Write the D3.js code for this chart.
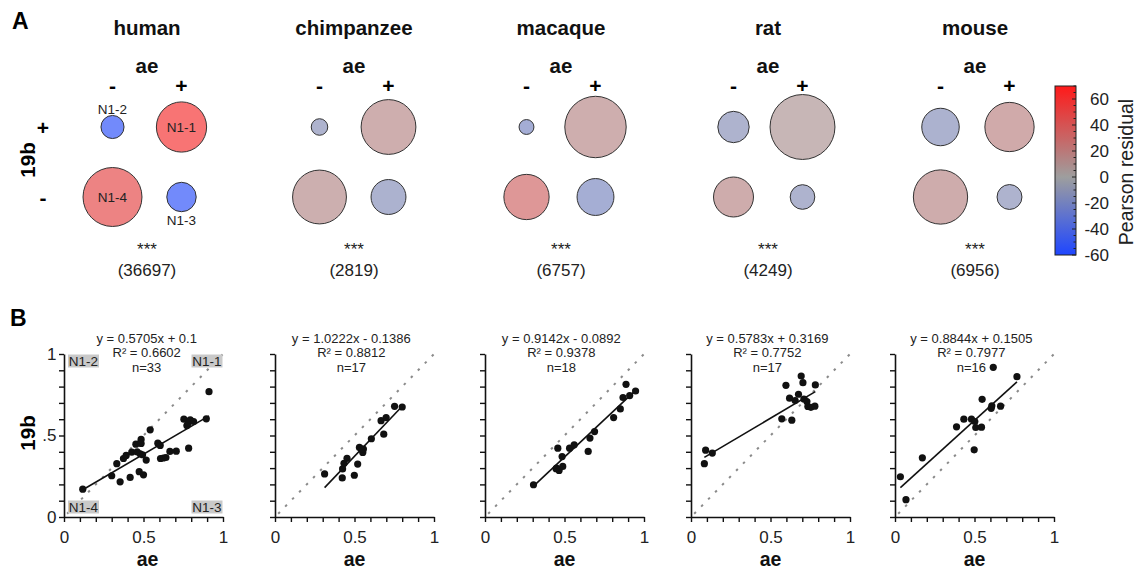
<!DOCTYPE html>
<html><head><meta charset="utf-8">
<script src="https://cdn.jsdelivr.net/npm/d3@7"></script>
<style>body{margin:0;background:#fff} svg{display:block;font-family:"Liberation Sans",Arial,Helvetica,sans-serif}</style>
</head><body><svg id="c" width="1138" height="570"></svg>
<script>
// ---------- DATA ----------
const species = ["human", "chimpanzee", "macaque", "rat", "mouse"];
const totals = [36697, 2819, 6757, 4249, 6956];
const signif = ["***", "***", "***", "***", "***"];

// quadrant order: N1-2 (ae-,19b+), N1-1 (ae+,19b+), N1-4 (ae-,19b-), N1-3 (ae+,19b-)
const quadNames = ["N1-2", "N1-1", "N1-4", "N1-3"];
const quadAe = ["-", "+", "-", "+"];
const quad19b = ["+", "+", "-", "-"];
const cellShare = [
  [0.072, 0.341, 0.470, 0.117],
  [0.037, 0.406, 0.392, 0.165],
  [0.030, 0.510, 0.277, 0.184],
  [0.133, 0.570, 0.216, 0.082],
  [0.190, 0.328, 0.398, 0.084]
];
const cellResidual = [
  [-56, 62, 50, -56],
  [-13, 15, 14, -14],
  [-20, 15, 33, -19],
  [-13, 8, 16, -13],
  [-14, 18, 16, -13]
];
const colorbarTicks = [-60, -40, -20, 0, 20, 40, 60];

const ptsHuman = [[0.118,0.171],[0.300,0.253],[0.332,0.327],[0.353,0.216],[0.374,0.359],[0.391,0.378],[0.416,0.243],[0.426,0.398],[0.452,0.447],[0.485,0.476],[0.485,0.451],[0.473,0.278],[0.479,0.388],[0.494,0.382],[0.500,0.259],[0.517,0.349],[0.542,0.535],[0.590,0.453],[0.605,0.439],[0.607,0.359],[0.625,0.362],[0.641,0.365],[0.666,0.402],[0.706,0.404],[0.754,0.600],[0.773,0.561],[0.780,0.575],[0.784,0.422],[0.794,0.596],[0.815,0.586],[0.895,0.602],[0.912,0.769],[0.460,0.400]];
const ptsChimp = [[0.312,0.264],[0.423,0.240],[0.425,0.295],[0.434,0.329],[0.453,0.360],[0.499,0.256],[0.520,0.325],[0.531,0.427],[0.552,0.396],[0.556,0.417],[0.543,0.417],[0.606,0.480],[0.667,0.591],[0.684,0.508],[0.699,0.610],[0.752,0.679],[0.800,0.675]];
const ptsMacaque = [[0.305,0.198],[0.447,0.296],[0.466,0.286],[0.489,0.310],[0.450,0.300],[0.458,0.422],[0.485,0.371],[0.532,0.422],[0.561,0.443],[0.649,0.402],[0.660,0.484],[0.689,0.524],[0.809,0.610],[0.851,0.663],[0.868,0.733],[0.887,0.814],[0.910,0.745],[0.947,0.773]];
const ptsRat = [[0.084,0.327],[0.092,0.410],[0.134,0.392],[0.571,0.602],[0.597,0.808],[0.620,0.729],[0.634,0.594],[0.655,0.714],[0.676,0.753],[0.693,0.865],[0.704,0.824],[0.710,0.724],[0.729,0.708],[0.735,0.678],[0.754,0.673],[0.779,0.680],[0.782,0.810]];
const ptsMouse = [[0.034,0.247],[0.069,0.106],[0.172,0.363],[0.387,0.553],[0.433,0.600],[0.481,0.600],[0.502,0.586],[0.508,0.549],[0.498,0.412],[0.544,0.551],[0.548,0.722],[0.605,0.667],[0.609,0.682],[0.664,0.680],[0.618,0.918],[0.767,0.861]];
const scatterPoints = [ptsHuman, ptsChimp, ptsMacaque, ptsRat, ptsMouse];

const fitSlope = [0.5705, 1.0222, 0.9142, 0.5783, 0.8844];
const fitIntercept = [0.1, -0.1386, -0.0892, 0.3169, 0.1505];
const fitR2 = ["0.6602", "0.8812", "0.9378", "0.7752", "0.7977"];
const fitN = [33, 17, 18, 17, 16];

const axisTicks = [0,0.1,0.2,0.3,0.4,0.5,0.6,0.7,0.8,0.9,1];
const xTickVals = [0, 0.5, 1], xTickLabels = ["0", "0.5", "1"];
const yTickVals = [0, 0.5, 1], yTickLabels = ["0", ".5", "1"];
const cornerNames = ["N1-2", "N1-1", "N1-4", "N1-3"];
const cornerX = [0, 1, 0, 1], cornerY = [1, 1, 0, 0];

// ---------- DRAW ----------
const svg = d3.select("#c");
const txt = "#111";

svg.append("text").attr("x", 12).attr("y", 29).attr("font-size", 23).attr("font-weight", "bold").text("A");
svg.append("text").attr("x", 10).attr("y", 326).attr("font-size", 23).attr("font-weight", "bold").text("B");

// ---- Panel A ----
const cx = d3.scalePoint().domain(species).range([147, 975]);
const colOff = d3.scalePoint().domain(["-", "+"]).range([-34.5, 34.5]);
const rowY = d3.scalePoint().domain(["+", "-"]).range([127, 197]);
const rScale = d3.scaleSqrt().domain([0, 1]).range([0, 43]);
const color = d3.scaleLinear().domain([-60, 0, 70]).range(["#1e46ff", "#9e9e9e", "#ff1a1a"]);

svg.append("text").attr("transform", "translate(27,160) rotate(-90)").attr("text-anchor", "middle")
  .attr("dominant-baseline", "central").attr("font-size", 20.5).attr("font-weight", "bold").text("19b");
["+", "-"].forEach(s => {
  svg.append("text").attr("x", 43).attr("y", rowY(s)).attr("text-anchor", "middle").attr("dominant-baseline", "central")
    .attr("font-size", 21).attr("font-weight", "bold").text(s);
});

species.forEach((sp, i) => {
  const c = cx(sp);
  const g = svg.append("g");
  g.append("text").attr("x", c).attr("y", 35).attr("text-anchor", "middle").attr("font-size", 20.5).attr("font-weight", "bold").attr("fill", txt).text(sp);
  g.append("text").attr("x", c).attr("y", 73).attr("text-anchor", "middle").attr("font-size", 20.5).attr("font-weight", "bold").attr("fill", txt).text("ae");
  ["-", "+"].forEach(s => {
    g.append("text").attr("x", c + colOff(s)).attr("y", 85).attr("text-anchor", "middle").attr("dominant-baseline", "central")
      .attr("font-size", 21).attr("font-weight", "bold").text(s);
  });
  quadNames.forEach((q, k) => {
    g.append("circle").attr("cx", c + colOff(quadAe[k])).attr("cy", rowY(quad19b[k]))
      .attr("r", rScale(cellShare[i][k]))
      .attr("fill", color(cellResidual[i][k])).attr("fill-opacity", 0.65)
      .attr("stroke", "#333").attr("stroke-width", 1);
  });
  if (i === 0) {
    quadNames.forEach((q, k) => {
      const r = rScale(cellShare[i][k]);
      const big = r > 20;
      const px = c + colOff(quadAe[k]);
      let py = rowY(quad19b[k]);
      if (!big) py = quad19b[k] === "+" ? py - r - 6 : py + r + 9;
      g.append("text").attr("x", px).attr("y", py).attr("text-anchor", "middle").attr("dominant-baseline", "central")
        .attr("font-size", 13.5).attr("fill", "#222").text(q);
    });
  }
  g.append("text").attr("x", c).attr("y", 255).attr("text-anchor", "middle").attr("font-size", 17).attr("fill", "#222").text(signif[i]);
  g.append("text").attr("x", c).attr("y", 276).attr("text-anchor", "middle").attr("font-size", 17).attr("fill", "#222").text("(" + totals[i] + ")");
});

// Colorbar
const cbX = 1055, cbW = 21;
const cbY = d3.scaleLinear().domain([-60, 70]).range([255, 86]);
const defs = svg.append("defs");
const grad = defs.append("linearGradient").attr("id", "cbg").attr("x1", 0).attr("y1", 1).attr("x2", 0).attr("y2", 0);
d3.range(0, 27).forEach(k => {
  const v = -60 + k * 5;
  grad.append("stop").attr("offset", (v + 60) / 130).attr("stop-color", color(v));
});
svg.append("rect").attr("x", cbX).attr("y", cbY(70)).attr("width", cbW).attr("height", cbY(-60) - cbY(70))
  .attr("fill", "url(#cbg)").attr("stroke", "#222").attr("stroke-width", 1);
const cbg = svg.append("g").attr("transform", `translate(${cbX + cbW},0)`);
d3.range(-60, 71, 5).forEach(v => {
  const major = v % 20 === 0;
  cbg.append("line").attr("x1", -(major ? 4 : 2.5)).attr("x2", 0).attr("y1", cbY(v)).attr("y2", cbY(v)).attr("stroke", "#222").attr("stroke-width", 1);
});
colorbarTicks.forEach(v => {
  cbg.append("text").attr("x", 33).attr("y", cbY(v)).attr("text-anchor", "end").attr("dominant-baseline", "central")
    .attr("font-size", 17).attr("fill", "#222").text(v);
});
svg.append("text").attr("transform", "translate(1126,172) rotate(-90)").attr("text-anchor", "middle")
  .attr("dominant-baseline", "central").attr("font-size", 19.5).attr("fill", "#222").text("Pearson residual");

// ---- Panel B ----
const plotLeft = [64, 275, 485, 691, 895];
const plotW = 159;
const y = d3.scaleLinear().domain([0, 1]).range([517, 354]);

species.forEach((sp, i) => {
  const x = d3.scaleLinear().domain([0, 1]).range([plotLeft[i], plotLeft[i] + plotW]);
  const g = svg.append("g");
  g.append("line").attr("x1", x(0.02)).attr("y1", y(0.02)).attr("x2", x(1)).attr("y2", y(1))
    .attr("stroke", "#8a8a8a").attr("stroke-width", 2).attr("stroke-dasharray", "2.5,7.5");
  if (i === 0) {
    cornerNames.forEach((nm, k) => {
      const tx = x(cornerX[k]) + (cornerX[k] === 0 ? 19.5 : -16);
      const ty = y(cornerY[k]) + (cornerY[k] === 1 ? 7 : -10);
      g.append("rect").attr("x", tx - 15.5).attr("y", ty - 6.5).attr("width", 31).attr("height", 13).attr("fill", "#c9c9c9");
      g.append("text").attr("x", tx).attr("y", ty).attr("text-anchor", "middle").attr("dominant-baseline", "central")
        .attr("font-size", 13.5).attr("fill", "#222").text(nm);
    });
  }
  const pts = scatterPoints[i];
  const ext = d3.extent(pts, d => d[0]);
  const fit = v => fitSlope[i] * v + fitIntercept[i];
  g.append("line").attr("x1", x(ext[0])).attr("y1", y(fit(ext[0]))).attr("x2", x(ext[1])).attr("y2", y(fit(ext[1])))
    .attr("stroke", "#111").attr("stroke-width", 1.6);
  g.selectAll("circle").data(pts).join("circle").attr("cx", d => x(d[0])).attr("cy", d => y(d[1])).attr("r", 3.6).attr("fill", "#111");
  const xa = d3.axisBottom(x).tickValues(axisTicks).tickSize(5).tickSizeOuter(0).tickPadding(9)
    .tickFormat(d => { const j = xTickVals.findIndex(v => Math.abs(v - d) < 1e-9); return j >= 0 ? xTickLabels[j] : ""; });
  const ya = d3.axisLeft(y).tickValues(axisTicks).tickSize(5).tickSizeOuter(0).tickPadding(2.5)
    .tickFormat(d => { if (i !== 0) return ""; const j = yTickVals.findIndex(v => Math.abs(v - d) < 1e-9); return j >= 0 ? yTickLabels[j] : ""; });
  const gx = g.append("g").attr("transform", `translate(0,${y(0)})`).call(xa);
  const gy = g.append("g").attr("transform", `translate(${x(0)},0)`).call(ya);
  [gx, gy].forEach(a => {
    a.select(".domain").attr("stroke", "#111").attr("stroke-width", 1.6);
    a.selectAll(".tick line").attr("stroke", "#111").attr("stroke-width", 1.4);
    a.selectAll(".tick text").attr("font-size", 17).attr("fill", "#222").attr("font-family", null);
  });
  g.append("text").attr("x", x(0.5) + (i === 0 ? 4 : 0)).attr("y", 566).attr("text-anchor", "middle")
    .attr("font-size", 19.5).attr("font-weight", "bold").attr("fill", txt).text("ae");
  const ex = i === 0 ? x(0.52) : x(0.48);
  const sign = fitIntercept[i] < 0 ? " - " : " + ";
  const eq = "y = " + fitSlope[i].toFixed(4) + "x" + sign + Math.abs(fitIntercept[i]);
  [eq, "R² = " + fitR2[i], "n=" + fitN[i]].forEach((t, k) => {
    g.append("text").attr("x", ex).attr("y", 343 + k * 14.3).attr("text-anchor", "middle").attr("font-size", 13).attr("fill", "#222").text(t);
  });
});
svg.append("text").attr("transform", "translate(27,433) rotate(-90)").attr("text-anchor", "middle")
  .attr("dominant-baseline", "central").attr("font-size", 20.5).attr("font-weight", "bold").text("19b");
</script></body></html>
